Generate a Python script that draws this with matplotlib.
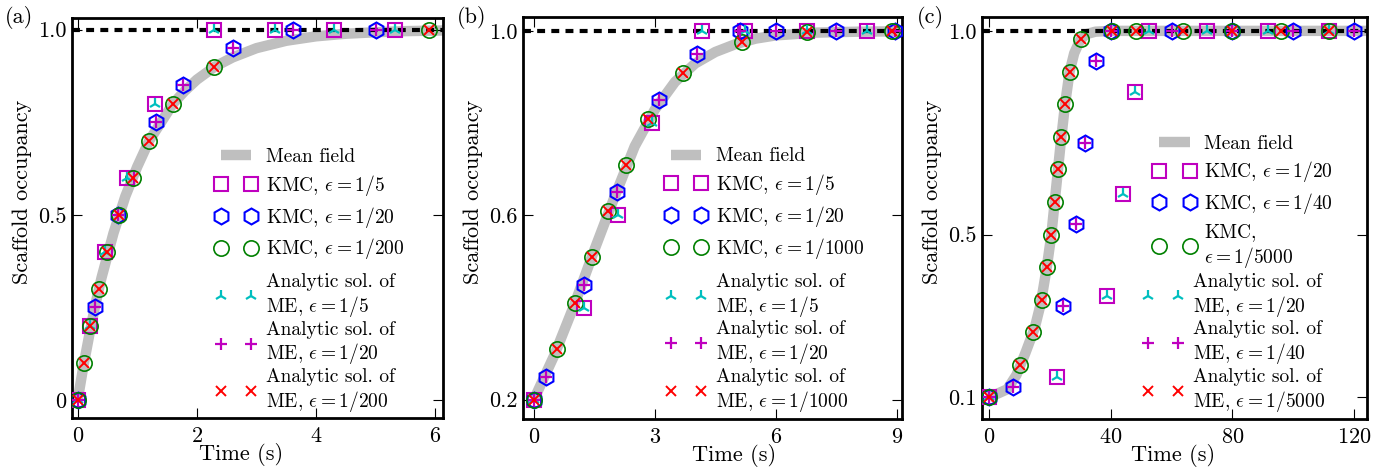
import matplotlib
matplotlib.use("Agg")
import matplotlib.pyplot as plt
from matplotlib.lines import Line2D

plt.rcParams.update({
    "font.family": "serif",
    "font.serif": ["cmr10"],
    "mathtext.fontset": "cm",
    "axes.formatter.use_mathtext": True,
    "axes.linewidth": 2.0,
    "xtick.direction": "in",
    "ytick.direction": "in",
    "xtick.top": True,
    "ytick.right": True,
    "xtick.major.size": 7.5,
    "ytick.major.size": 7.5,
    "xtick.major.width": 0.8,
    "ytick.major.width": 0.8,
    "xtick.major.pad": 6,
    "ytick.major.pad": 4,
    "xtick.labelsize": 16,
    "ytick.labelsize": 16,
    "axes.labelsize": 16,
})

# ---- panel (a) ----
mf_a_t = [0, 0.1, 0.2, 0.3, 0.4, 0.5, 0.6, 0.7, 0.8, 1.0, 1.2, 1.4, 1.6, 1.8,
          2.0, 2.3, 2.6, 3.0, 3.5, 4.0, 4.5, 5.0, 5.5, 6.2]
mf_a_y = [0, 0.095, 0.18, 0.26, 0.33, 0.39, 0.45, 0.50, 0.55, 0.63, 0.70, 0.75,
          0.80, 0.835, 0.865, 0.90, 0.925, 0.95, 0.97, 0.982, 0.989, 0.993, 0.996, 0.998]
sq_a_t = [0, 0.21, 0.46, 0.82, 1.29, 2.29, 3.31, 4.30, 5.32]
sq_a_y = [0, 0.2, 0.4, 0.6, 0.8, 1.0, 1.0, 1.0, 1.0]
hx_a_t = [0, 0.285, 0.68, 1.31, 1.77, 2.61, 3.61, 5.01]
hx_a_y = [0, 0.25, 0.5, 0.75, 0.85, 0.95, 1.0, 1.0]
ci_a_t = [0, 0.11, 0.21, 0.35, 0.49, 0.69, 0.92, 1.20, 1.60, 2.29, 5.90]
ci_a_y = [0, 0.1, 0.2, 0.3, 0.4, 0.5, 0.6, 0.7, 0.8, 0.9, 1.0]
eps_a = ["1/5", "1/20", "1/200"]

# ---- panel (b) ----
mf_b_t = [0, 0.5, 1.0, 1.5, 2.0, 2.5, 3.0, 3.5, 4.0, 4.5, 5.0, 5.5, 6.0, 7.0, 8.0, 9.2]
mf_b_y = [0.2, 0.295, 0.405, 0.525, 0.64, 0.75, 0.83, 0.89, 0.93, 0.955, 0.972,
          0.984, 0.991, 0.997, 0.999, 1.0]
sq_b_t = [0, 1.25, 2.08, 2.92, 4.16, 5.24, 6.77, 8.25]
sq_b_y = [0.2, 0.4, 0.6, 0.8, 1.0, 1.0, 1.0, 1.0]
hx_b_t = [0, 0.31, 1.24, 2.05, 3.10, 4.04, 5.10, 6.0, 7.49, 8.96]
hx_b_y = [0.2, 0.25, 0.45, 0.65, 0.85, 0.95, 1.0, 1.0, 1.0, 1.0]
ci_b_t = [0, 0.58, 1.02, 1.43, 1.84, 2.28, 2.84, 3.69, 5.15, 6.77, 8.89]
ci_b_y = [0.2, 0.31, 0.41, 0.51, 0.61, 0.71, 0.81, 0.91, 0.976, 0.998, 1.0]
eps_b = ["1/5", "1/20", "1/1000"]

# ---- panel (c) ----
mf_c_t = [0, 3, 6, 9, 12, 15, 17, 19, 20.5, 22, 23.5, 25, 26.5, 28, 30, 32, 35,
          40, 60, 125]
mf_c_y = [0.1, 0.11, 0.12, 0.155, 0.21, 0.27, 0.33, 0.42, 0.50, 0.61, 0.72, 0.82,
          0.90, 0.945, 0.978, 0.992, 0.998, 1.0, 1.0, 1.0]
sq_c_t = [0, 22.5, 38.7, 43.9, 48.0, 52.7, 71.8, 91.8, 111.9]
sq_c_y = [0.1, 0.15, 0.35, 0.6, 0.85, 1.0, 1.0, 1.0, 1.0]
hx_c_t = [0, 7.8, 24.2, 28.6, 31.5, 35.1, 40.0, 60.1, 80.0, 100.0, 120.0]
hx_c_y = [0.1, 0.125, 0.325, 0.525, 0.725, 0.925, 1.0, 1.0, 1.0, 1.0, 1.0]
ci_c_t = [0, 10.2, 14.6, 17.3, 19.0, 20.5, 21.6, 22.6, 23.8, 24.9, 26.6, 30.1,
          40.5, 48.2, 63.9, 80.0, 95.9, 111.9]
ci_c_y = [0.1, 0.18, 0.26, 0.34, 0.42, 0.50, 0.58, 0.66, 0.74, 0.82, 0.90, 0.98,
          1.0, 1.0, 1.0, 1.0, 1.0, 1.0]
eps_c = ["1/20", "1/40", "1/5000"]

panels = [
    dict(tag="(a)", mf=(mf_a_t, mf_a_y), sq=(sq_a_t, sq_a_y), hx=(hx_a_t, hx_a_y),
         ci=(ci_a_t, ci_a_y), eps=eps_a, rect=[0.0516, 0.1125, 0.2657, 0.8493],
         xlim=(-0.095, 6.13), ylim=(-0.049, 1.0315), xticks=[0, 2, 4, 6],
         yticks=[0, 0.5, 1.0], yticklabels=["0", "0.5", "1.0"],
         xlab=(0.455, -0.063), ylab=(-0.108, 0.565),
         leg1=(0.385, 0.675), leg2=(0.385, 0.3625), tagx=5 / 1396),
    dict(tag="(b)", mf=(mf_b_t, mf_b_y), sq=(sq_b_t, sq_b_y), hx=(hx_b_t, hx_b_y),
         ci=(ci_b_t, ci_b_y), eps=eps_b, rect=[0.3749, 0.1104, 0.2710, 0.8526],
         xlim=(-0.26, 9.12), ylim=(0.158, 1.030), xticks=[0, 3, 6, 9],
         yticks=[0.2, 0.6, 1.0], yticklabels=["0.2", "0.6", "1.0"],
         xlab=(0.557, -0.063), ylab=(-0.106, 0.565),
         leg1=(0.3745, 0.676), leg2=(0.3745, 0.364), tagx=457 / 1396),
    dict(tag="(c)", mf=(mf_c_t, mf_c_y), sq=(sq_c_t, sq_c_y), hx=(hx_c_t, hx_c_y),
         ci=(ci_c_t, ci_c_y), eps=eps_c, rect=[0.7037, 0.1104, 0.2753, 0.8526],
         xlim=(-2.2, 124.2), ylim=(0.047, 1.033), xticks=[0, 40, 80, 120],
         yticks=[0.1, 0.5, 1.0], yticklabels=["0.1", "0.5", "1.0"],
         xlab=(0.495, -0.063), ylab=(-0.106, 0.565),
         leg1=(0.445, 0.708), leg2=(0.416, 0.364), tagx=917 / 1396),
]

mf_color = "0.75"
ms_big = 10.5
leg_kw = dict(frameon=False, fontsize=14, numpoints=2, handlelength=2.16,
              handletextpad=0.45, borderpad=0, borderaxespad=0, loc="upper left")

fig = plt.figure(figsize=(13.96, 4.71), dpi=100)

for p in panels:
    ax = fig.add_axes(p["rect"])
    ax.plot(*p["mf"], color=mf_color, lw=7.5, solid_capstyle="butt", zorder=1)
    ax.axhline(1.0, color="k", lw=3, ls="--", dashes=(1.9, 1.5), zorder=2)

    e1, e2, e3 = p["eps"]
    sq_t, sq_y = p["sq"]
    hx_t, hx_y = p["hx"]
    ci_t, ci_y = p["ci"]

    h_sq, = ax.plot(sq_t, sq_y, "s", ms=ms_big, mfc="none", mec="m", mew=1.5, zorder=3)
    h_hx, = ax.plot(hx_t, hx_y, "h", ms=ms_big + 1, mfc="none", mec="b", mew=1.5, zorder=3)
    h_ci, = ax.plot(ci_t, ci_y, "o", ms=ms_big + 0.5, mfc="none", mec="g", mew=1.2, zorder=3)
    h_tr, = ax.plot(sq_t, sq_y, "2", ms=9, color="c", mew=1.6, zorder=4)
    h_pl, = ax.plot(hx_t, hx_y, "+", ms=8, color="m", mew=1.6, zorder=4)
    h_xx, = ax.plot(ci_t, ci_y, "x", ms=7.5, color="r", mew=1.4, zorder=4)

    h_mf = Line2D([], [], color=mf_color, lw=7.5, solid_capstyle="butt")

    lab3 = f"KMC, $\\epsilon = {e3}$"
    if p["tag"] == "(c)":
        lab3 = f"KMC,\n$\\epsilon = {e3}$"
    leg1 = ax.legend([h_mf, h_sq, h_hx, h_ci],
                     ["Mean field", f"KMC, $\\epsilon = {e1}$",
                      f"KMC, $\\epsilon = {e2}$", lab3],
                     bbox_to_anchor=p["leg1"], labelspacing=0.35, **leg_kw)
    ax.add_artist(leg1)
    leg2 = ax.legend([h_tr, h_pl, h_xx],
                     [f"Analytic sol. of\nME, $\\epsilon = {e}$" for e in p["eps"]],
                     bbox_to_anchor=p["leg2"], labelspacing=0.1, **leg_kw)
    for t in leg2.get_texts():
        t.set_linespacing(1.15)

    ax.set_xlim(*p["xlim"])
    ax.set_ylim(*p["ylim"])
    ax.set_xticks(p["xticks"])
    ax.set_yticks(p["yticks"])
    ax.set_yticklabels(p["yticklabels"])
    ax.set_xlabel("Time (s)")
    ax.set_ylabel("Scaffold occupancy")
    ax.xaxis.set_label_coords(*p["xlab"])
    ax.yaxis.set_label_coords(*p["ylab"])

    fig.text(p["tagx"], 1 - 17.5 / 471, p["tag"], fontsize=16, ha="left", va="center")

fig.savefig("out.png", dpi=100)
